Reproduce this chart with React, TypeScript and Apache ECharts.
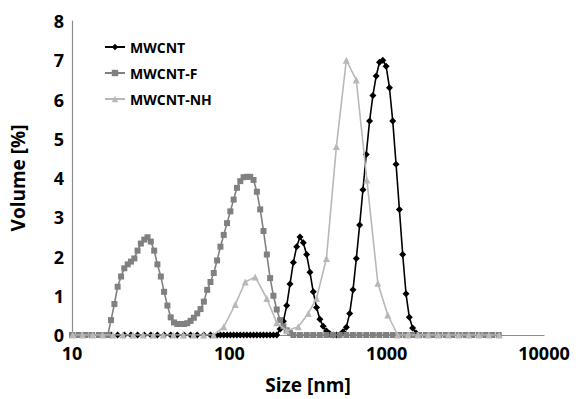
import React, { useEffect, useRef } from "react";
import * as echarts from "echarts";

const seriesNames = ["MWCNT", "MWCNT-F", "MWCNT-NH"];

const mwcntSize = [
  17.7, 19.5, 21.5, 23.7, 26.1, 28.8, 31.7, 34.9, 38.5, 42.4, 46.7, 51.5, 56.7, 62.5, 68.9, 75.9, 83.6,
  87.8, 92.1, 96.7, 101.5, 106.5, 111.8, 117.4, 123.2, 129.4, 135.8, 142.5, 149.6, 157.1, 164.9, 173.1,
  181.7, 190.7, 200.2, 210.2, 220.6, 231.6, 243.1, 255.2, 267.9, 281.2, 295.2, 309.9, 325.3, 341.4,
  358.4, 376.2, 394.9, 414.5, 435.1, 456.7, 479.4, 503.2, 528.2, 554.5, 582.0, 611.0, 641.3, 673.2,
  706.6, 741.7, 778.6, 817.3, 857.9, 900.5, 945.2, 992.2, 1041.5, 1093.2, 1147.6, 1204.6, 1264.5,
  1327.3, 1393.3, 1462.5, 1535.2,
];
const mwcntVolume = [
  0, 0, 0, 0, 0, 0, 0, 0, 0, 0, 0, 0, 0, 0, 0, 0, 0,
  0, 0, 0, 0, 0, 0, 0, 0, 0, 0, 0, 0, 0, 0, 0, 0, 0, 0,
  0.15, 0.35, 0.75, 1.3, 1.85, 2.25, 2.5, 2.35, 2.05, 1.6, 1.1, 0.7, 0.4, 0.22, 0.1, 0.03,
  0, 0, 0, 0.08, 0.2, 0.55, 1.15, 1.95, 2.8, 3.7, 4.6, 5.45, 6.1, 6.6, 6.95, 7.0, 6.85, 6.3,
  5.45, 4.35, 3.2, 2.05, 1.05, 0.45, 0.18, 0.05,
];

const mwcntFSize = [
  10, 11.0, 12.2, 13.4, 14.8, 16.3,
  16.9, 17.7, 18.6, 19.5, 20.5, 21.5, 22.6, 23.7, 24.9, 26.1, 27.4, 28.8, 30.2, 31.7, 33.3, 34.9,
  36.7, 38.5, 40.4, 42.4, 44.5, 46.7, 49.0, 51.5, 54.0, 56.7, 59.5, 62.5, 65.6, 68.9, 72.3, 75.9,
  79.6, 83.6, 87.8, 92.1, 96.7, 101.5, 106.5, 111.8, 117.4, 123.2, 129.4, 135.8, 142.5, 149.6,
  157.1, 164.9, 173.1, 181.7, 190.7, 200.2, 210.2, 220.6, 231.6, 243.1, 255.2,
  281, 310, 341, 376, 414, 456, 503, 554, 610, 672, 741, 816, 899, 991, 1092, 1203, 1325, 1460,
  1609, 1773, 1953, 2152, 2371, 2612, 2878, 3171, 3494, 3850, 4242, 4674, 5150,
];
const mwcntFVolume = [
  0, 0, 0, 0, 0, 0,
  0, 0.38, 0.79, 1.23, 1.49, 1.7, 1.8, 1.87, 1.95, 2.15, 2.33, 2.43, 2.49, 2.38, 2.15, 1.8,
  1.49, 1.1, 0.75, 0.45, 0.32, 0.28, 0.28, 0.28, 0.3, 0.36, 0.44, 0.55, 0.66, 0.85, 1.15, 1.35,
  1.58, 1.9, 2.25, 2.55, 2.85, 3.15, 3.45, 3.75, 3.92, 4.02, 4.03, 4.03, 3.95, 3.65,
  3.2, 2.65, 2.05, 1.45, 1.0, 0.65, 0.38, 0.22, 0.12, 0.05, 0,
  0, 0, 0, 0, 0, 0, 0, 0, 0, 0, 0, 0, 0, 0, 0, 0, 0, 0,
  0, 0, 0, 0, 0, 0, 0, 0, 0, 0, 0, 0, 0,
];

const mwcntNHSize = [
  10.1, 11.67, 13.52, 15.68, 18.17, 21.06, 24.41, 28.29, 32.8, 38.0, 44.1, 51.1, 59.2, 68.6, 79.5,
  92.2, 109.1, 126.2, 146.0, 173.1, 200.1, 231.4, 274.4, 317.4, 358.1, 414.2, 479.0, 554.0, 640.8,
  748.8, 878.9, 1016, 1175, 1363, 1581, 1834, 2128, 2468, 2862, 3321, 3852, 4467, 5183,
];
const mwcntNHVolume = [
  0, 0, 0, 0, 0, 0, 0, 0, 0, 0, 0, 0, 0, 0, 0,
  0.21, 0.78, 1.35, 1.48, 0.93, 0.31, 0.11, 0.21, 0.55, 0.93, 1.95, 4.8, 7.0, 6.5,
  3.95, 1.32, 0.51, 0, 0, 0, 0, 0, 0, 0, 0, 0, 0, 0,
];

const xTicks = [10, 100, 1000, 10000];

const FONT = "'Open Sans', 'Liberation Sans', sans-serif";

const pair = (xs: number[], ys: number[]) => xs.map((x, i) => [x, ys[i]]);

export default function App() {
  const ref = useRef<HTMLDivElement>(null);
  useEffect(() => {
    document.body.style.margin = "0";
    if (!ref.current) return;
    const chart = echarts.init(ref.current, undefined, { renderer: "svg" });
    const colors = ["#000000", "#808080", "#b8b8b8"];
    const symbols = ["diamond", "rect", "triangle"];
    const sizes = [7, 6, 7];
    const datas = [
      pair(mwcntSize, mwcntVolume),
      pair(mwcntFSize, mwcntFVolume),
      pair(mwcntNHSize, mwcntNHVolume),
    ];
    chart.setOption({
      animation: false,
      backgroundColor: "#ffffff",
      grid: { left: 69, right: 39, top: 21, bottom: 64, containLabel: false },
      legend: {
        orient: "vertical",
        left: 99,
        top: 35,
        itemGap: 12,
        itemWidth: 20,
        itemHeight: 8,
        data: seriesNames,
        textStyle: { fontFamily: FONT, fontWeight: "bold", fontSize: 14, color: "#000" },
      },
      xAxis: {
        type: "log",
        logBase: 10,
        min: xTicks[0],
        max: xTicks[xTicks.length - 1],
        name: "Size [nm]",
        nameLocation: "middle",
        nameGap: 40,
        nameTextStyle: { fontFamily: FONT, fontWeight: "bold", fontSize: 19, color: "#000" },
        axisLine: { lineStyle: { color: "#8c8c8c", width: 1.2 } },
        axisTick: { show: false },
        splitLine: { show: false },
        axisLabel: {
          fontFamily: FONT,
          fontWeight: "bold",
          fontSize: 18,
          color: "#000",
          margin: 9,
          showMinLabel: true,
          showMaxLabel: true,
          formatter: (v: number) => String(Math.round(v)),
        },
      },
      yAxis: {
        type: "value",
        min: 0,
        max: 8,
        interval: 1,
        name: "Volume [%]",
        nameLocation: "middle",
        nameGap: 45,
        nameRotate: 90,
        nameTextStyle: { fontFamily: FONT, fontWeight: "bold", fontSize: 19, color: "#000" },
        axisLine: { show: true, lineStyle: { color: "#8c8c8c", width: 1.2 } },
        axisTick: { show: false },
        splitLine: { show: false },
        axisLabel: { fontFamily: FONT, fontWeight: "bold", fontSize: 18, color: "#000", margin: 8 },
      },
      series: seriesNames.map((name, i) => ({
        name,
        type: "line",
        data: datas[i],
        symbol: symbols[i],
        symbolSize: sizes[i],
        showAllSymbol: true,
        lineStyle: { color: colors[i], width: 1.6 },
        itemStyle: { color: colors[i] },
        z: 2 + i,
      })),
    });
    return () => chart.dispose();
  }, []);
  return <div ref={ref} style={{ width: 583, height: 399 }} />;
}
